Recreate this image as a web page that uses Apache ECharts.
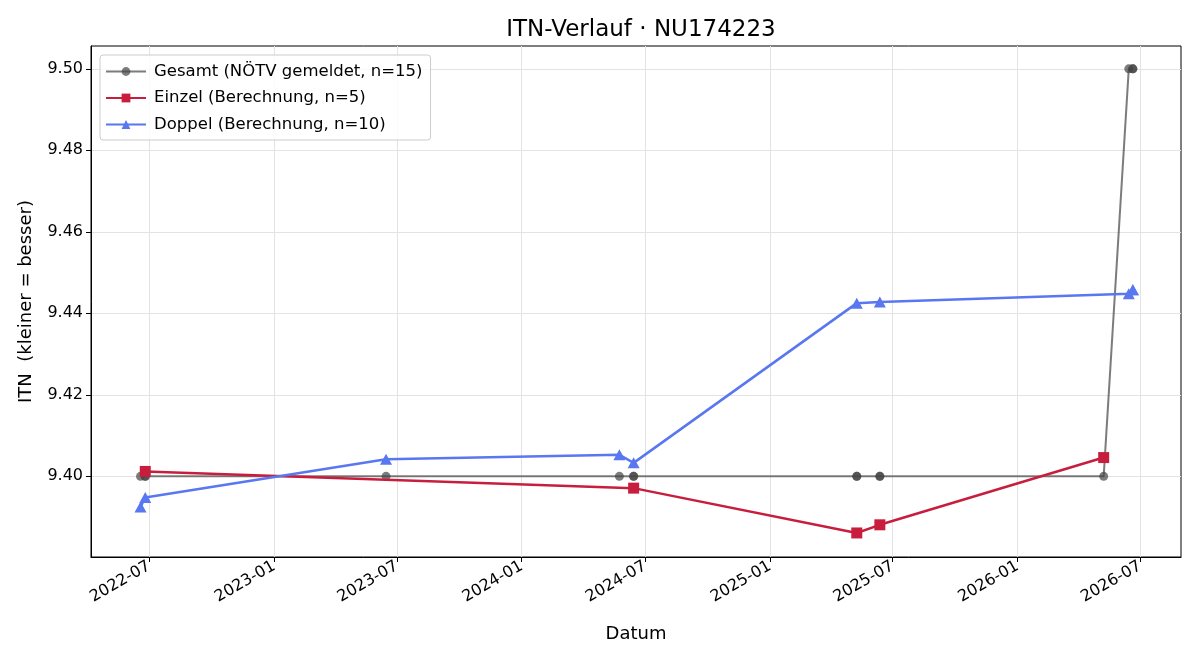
<!DOCTYPE html>
<html>
<head>
<meta charset="utf-8">
<title>ITN-Verlauf</title>
<script src="https://cdn.jsdelivr.net/npm/echarts@6/dist/echarts.min.js"></script>
<style>
  html, body { margin: 0; padding: 0; background: #fff; }
  #chart { width: 1200px; height: 660px; }
</style>
</head>
<body>
<div id="chart"></div>
<script>
// Gesamt (NÖTV gemeldet)
const gesamtDates = ['2022-06-18', '2022-06-25', '2022-06-25', '2023-06-15', '2024-05-24', '2024-06-14', '2024-06-14',
  '2025-05-09', '2025-05-09', '2025-06-12', '2025-06-12', '2026-05-08', '2026-06-14', '2026-06-20', '2026-06-20'];
const gesamtValues = [9.40, 9.40, 9.40, 9.40, 9.40, 9.40, 9.40, 9.40, 9.40, 9.40, 9.40, 9.40, 9.50, 9.50, 9.50];

// Einzel (Berechnung)
const einzelDates = ['2022-06-25', '2024-06-14', '2025-05-09', '2025-06-12', '2026-05-08'];
const einzelValues = [9.4012, 9.3971, 9.3861, 9.3881, 9.4046];

// Doppel (Berechnung)
const doppelDates = ['2022-06-18', '2022-06-25', '2023-06-15', '2024-05-24', '2024-06-14',
  '2025-05-09', '2025-06-12', '2026-06-14', '2026-06-20', '2026-06-20'];
const doppelValues = [9.3925, 9.3948, 9.4042, 9.4053, 9.4033, 9.4425, 9.4428, 9.4448, 9.4458, 9.4458];

const xTickLabels = ['2022-07', '2023-01', '2023-07', '2024-01', '2024-07', '2025-01', '2025-07', '2026-01', '2026-07'];
const yTickValues = [9.40, 9.42, 9.44, 9.46, 9.48, 9.50];

const FONT = 'DejaVu Sans';

function ts(d) {
  const p = d.split('-').map(Number);
  return Date.UTC(p[0], p[1] - 1, p[2] || 1);
}

function pairs(dates, values) {
  return dates.map((d, i) => [ts(d), values[i]]);
}

function fmtMonth(v) {
  const d = new Date(v);
  const m = d.getUTCMonth() + 1;
  return d.getUTCFullYear() + '-' + (m < 10 ? '0' + m : m);
}

const xTicks = xTickLabels.map(ts);

const chart = echarts.init(document.getElementById('chart'), null, { renderer: 'canvas' });

const option = {
  animation: false,
  backgroundColor: '#fff',
  title: {
    text: 'ITN-Verlauf · NU174223',
    left: 636,
    top: 14,
    textAlign: 'center',
    textStyle: { fontFamily: FONT, fontSize: 23, fontWeight: 'normal', color: '#000' }
  },
  legend: {
    orient: 'vertical',
    left: 100,
    top: 55,
    padding: [8, 8, 7, 5],
    itemGap: 9.5,
    itemWidth: 40,
    itemHeight: 11,
    borderColor: '#cccccc',
    borderWidth: 1,
    borderRadius: 3,
    backgroundColor: 'rgba(255,255,255,0.8)',
    textStyle: { fontFamily: FONT, fontSize: 16.5, color: '#000', padding: [0, 0, 0, 3] },
    data: ['Gesamt (NÖTV gemeldet, n=15)', 'Einzel (Berechnung, n=5)', 'Doppel (Berechnung, n=10)']
  },
  grid: {
    left: 91,
    right: 19,
    top: 46,
    bottom: 103,
    show: true,
    borderColor: '#000',
    borderWidth: 1,
    containLabel: false
  },
  xAxis: {
    type: 'value',
    min: ts('2022-04-06'),
    max: ts('2026-08-30'),
    name: 'Datum',
    nameLocation: 'middle',
    nameGap: 68,
    nameTextStyle: { fontFamily: FONT, fontSize: 18, color: '#000' },
    axisLine: { show: true, lineStyle: { color: '#000', width: 1 } },
    axisTick: { show: true, length: 5, lineStyle: { color: '#000' }, customValues: xTicks },
    axisLabel: {
      customValues: xTicks,
      rotate: 30,
      margin: 8,
      fontFamily: FONT,
      fontSize: 16,
      color: '#000',
      formatter: fmtMonth
    },
    splitLine: { show: true, lineStyle: { color: '#e3e3e3', width: 1 } }
  },
  yAxis: {
    type: 'value',
    min: 9.3802,
    max: 9.5056,
    name: 'ITN  (kleiner = besser)',
    nameLocation: 'middle',
    nameGap: 56,
    nameTextStyle: { fontFamily: FONT, fontSize: 18, color: '#000' },
    axisLine: { show: true, lineStyle: { color: '#000', width: 1 } },
    axisTick: { show: true, length: 5, lineStyle: { color: '#000' }, customValues: yTickValues },
    axisLabel: {
      customValues: yTickValues,
      margin: 8,
      fontFamily: FONT,
      fontSize: 16,
      color: '#000',
      formatter: v => v.toFixed(2)
    },
    splitLine: { show: true, lineStyle: { color: '#e3e3e3', width: 1 } }
  },
  series: [
    {
      name: 'Gesamt (NÖTV gemeldet, n=15)',
      type: 'line',
      data: pairs(gesamtDates, gesamtValues),
      symbol: 'circle',
      symbolSize: 9,
      z: 2,
      lineStyle: { color: '#444', width: 2, opacity: 0.7 },
      itemStyle: { color: '#444', opacity: 0.7 }
    },
    {
      name: 'Einzel (Berechnung, n=5)',
      type: 'line',
      data: pairs(einzelDates, einzelValues),
      symbol: 'rect',
      symbolSize: 11,
      z: 3,
      lineStyle: { color: '#c81e3e', width: 2.5 },
      itemStyle: { color: '#c81e3e' }
    },
    {
      name: 'Doppel (Berechnung, n=10)',
      type: 'line',
      data: pairs(doppelDates, doppelValues),
      symbol: 'triangle',
      symbolSize: [12, 11],
      z: 4,
      lineStyle: { color: '#5877f0', width: 2.5 },
      itemStyle: { color: '#5877f0' }
    }
  ]
};

chart.setOption(option);
</script>
</body>
</html>
